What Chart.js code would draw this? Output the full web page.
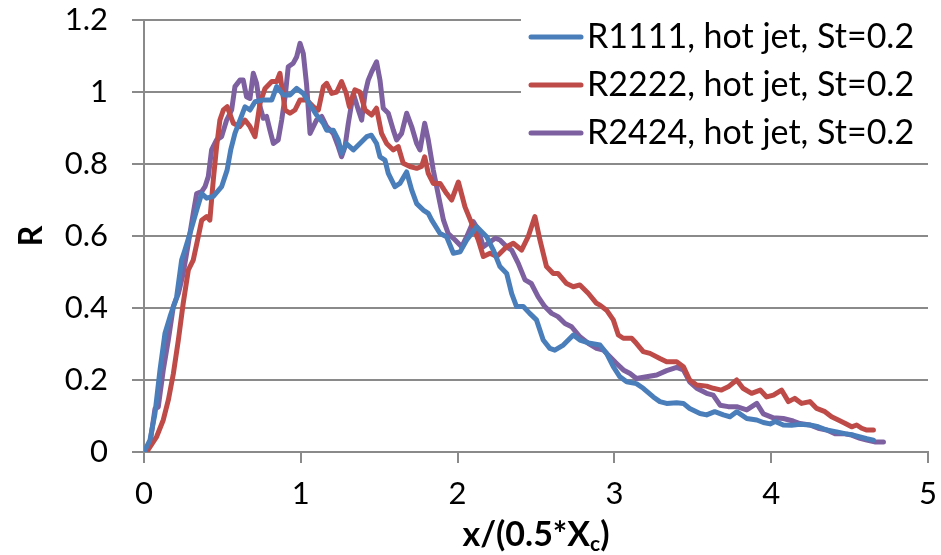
<!DOCTYPE html>
<html>
<head>
<meta charset="utf-8">
<script src="https://cdn.jsdelivr.net/npm/chart.js@4"></script>
<style>
  html, body { margin: 0; padding: 0; background: #fff; }
  #wrap { width: 941px; height: 555px; }
</style>
</head>
<body>
<div id="wrap"><canvas id="myChart" width="941" height="555"></canvas></div>
<script>
// R along the jet axis, hot jet, St = 0.2
const r1111X = [0, 0.038, 0.07, 0.102, 0.134, 0.166, 0.208, 0.24, 0.26, 0.293, 0.336, 0.368, 0.40, 0.442, 0.495, 0.53, 0.553, 0.58, 0.612, 0.644, 0.676, 0.708, 0.76, 0.815, 0.846, 0.889, 0.931, 0.974, 1.016, 1.06, 1.101, 1.144, 1.165, 1.207, 1.239, 1.26, 1.29, 1.335, 1.377, 1.42, 1.45, 1.483, 1.505, 1.537, 1.558, 1.6, 1.632, 1.675, 1.707, 1.739, 1.781, 1.813, 1.835, 1.888, 1.93, 1.973, 2.016, 2.058, 2.122, 2.185, 2.228, 2.27, 2.313, 2.345, 2.376, 2.419, 2.46, 2.503, 2.546, 2.588, 2.62, 2.674, 2.738, 2.78, 2.844, 2.908, 2.95, 2.993, 3.035, 3.078, 3.14, 3.184, 3.248, 3.29, 3.333, 3.397, 3.44, 3.48, 3.546, 3.588, 3.64, 3.695, 3.737, 3.78, 3.844, 3.908, 3.95, 3.993, 4.025, 4.077, 4.13, 4.183, 4.247, 4.3, 4.354, 4.418, 4.47, 4.524, 4.567, 4.61, 4.652];
const r1111Y = [0, 0.033, 0.107, 0.228, 0.33, 0.376, 0.43, 0.533, 0.56, 0.607, 0.672, 0.718, 0.705, 0.71, 0.737, 0.783, 0.839, 0.885, 0.922, 0.959, 0.95, 0.973, 0.978, 0.978, 1.015, 0.992, 0.992, 1.01, 0.996, 0.964, 0.936, 0.913, 0.894, 0.894, 0.867, 0.83, 0.857, 0.839, 0.857, 0.876, 0.88, 0.857, 0.82, 0.811, 0.774, 0.737, 0.746, 0.778, 0.728, 0.69, 0.672, 0.663, 0.644, 0.607, 0.598, 0.552, 0.556, 0.589, 0.626, 0.598, 0.561, 0.515, 0.496, 0.44, 0.404, 0.404, 0.385, 0.367, 0.311, 0.288, 0.283, 0.297, 0.325, 0.311, 0.302, 0.297, 0.274, 0.237, 0.209, 0.195, 0.19, 0.177, 0.153, 0.14, 0.135, 0.137, 0.135, 0.121, 0.107, 0.103, 0.112, 0.103, 0.098, 0.112, 0.093, 0.089, 0.082, 0.078, 0.085, 0.075, 0.074, 0.077, 0.075, 0.07, 0.061, 0.056, 0.051, 0.047, 0.042, 0.037, 0.033];

const r2222X = [0, 0.017, 0.081, 0.123, 0.155, 0.187, 0.219, 0.25, 0.283, 0.314, 0.346, 0.368, 0.40, 0.42, 0.442, 0.463, 0.484, 0.506, 0.531, 0.57, 0.61, 0.644, 0.676, 0.708, 0.74, 0.772, 0.815, 0.846, 0.867, 0.9, 0.931, 0.963, 0.995, 1.038, 1.08, 1.112, 1.144, 1.165, 1.197, 1.229, 1.26, 1.29, 1.31, 1.345, 1.377, 1.41, 1.452, 1.483, 1.515, 1.547, 1.59, 1.622, 1.653, 1.696, 1.739, 1.77, 1.79, 1.813, 1.845, 1.888, 1.93, 1.962, 2.005, 2.047, 2.09, 2.132, 2.164, 2.207, 2.25, 2.313, 2.355, 2.408, 2.45, 2.493, 2.525, 2.567, 2.61, 2.64, 2.695, 2.738, 2.78, 2.833, 2.886, 2.908, 2.95, 2.993, 3.025, 3.057, 3.11, 3.14, 3.184, 3.227, 3.29, 3.333, 3.397, 3.44, 3.48, 3.525, 3.588, 3.63, 3.683, 3.726, 3.78, 3.82, 3.875, 3.93, 3.971, 4.014, 4.066, 4.11, 4.15, 4.194, 4.247, 4.29, 4.343, 4.385, 4.428, 4.47, 4.513, 4.545, 4.577, 4.61, 4.652];
const r2222Y = [0, 0, 0.043, 0.089, 0.144, 0.217, 0.311, 0.413, 0.506, 0.533, 0.598, 0.644, 0.654, 0.644, 0.756, 0.848, 0.922, 0.95, 0.959, 0.913, 0.904, 0.922, 0.904, 0.876, 0.969, 1.01, 1.029, 1.029, 1.052, 0.95, 0.941, 0.95, 0.978, 0.978, 0.959, 0.95, 1.015, 1.024, 0.996, 1.0, 1.029, 0.996, 0.959, 1.006, 1.0, 0.95, 0.936, 0.955, 0.885, 0.857, 0.839, 0.848, 0.802, 0.793, 0.788, 0.793, 0.82, 0.774, 0.746, 0.746, 0.718, 0.7, 0.75, 0.681, 0.635, 0.589, 0.543, 0.552, 0.543, 0.57, 0.58, 0.561, 0.598, 0.654, 0.589, 0.515, 0.496, 0.496, 0.468, 0.459, 0.464, 0.441, 0.413, 0.408, 0.394, 0.367, 0.325, 0.316, 0.316, 0.302, 0.279, 0.274, 0.26, 0.251, 0.251, 0.237, 0.2, 0.186, 0.183, 0.177, 0.172, 0.181, 0.2, 0.177, 0.163, 0.172, 0.153, 0.158, 0.172, 0.14, 0.149, 0.135, 0.14, 0.121, 0.112, 0.098, 0.089, 0.08, 0.07, 0.075, 0.066, 0.061, 0.061];

const r2424X = [0, 0.038, 0.07, 0.091, 0.123, 0.155, 0.187, 0.219, 0.25, 0.283, 0.314, 0.336, 0.368, 0.389, 0.41, 0.431, 0.463, 0.495, 0.527, 0.559, 0.58, 0.612, 0.633, 0.654, 0.676, 0.697, 0.718, 0.74, 0.761, 0.782, 0.803, 0.825, 0.856, 0.878, 0.9, 0.92, 0.952, 0.974, 0.995, 1.016, 1.037, 1.059, 1.1, 1.133, 1.165, 1.207, 1.239, 1.26, 1.282, 1.303, 1.335, 1.367, 1.388, 1.41, 1.43, 1.452, 1.483, 1.505, 1.526, 1.558, 1.59, 1.611, 1.643, 1.675, 1.707, 1.739, 1.76, 1.79, 1.813, 1.845, 1.888, 1.91, 1.94, 1.984, 2.026, 2.058, 2.1, 2.132, 2.164, 2.195, 2.24, 2.27, 2.313, 2.345, 2.387, 2.43, 2.47, 2.514, 2.556, 2.6, 2.64, 2.685, 2.727, 2.78, 2.833, 2.886, 2.93, 2.97, 3.014, 3.057, 3.1, 3.14, 3.205, 3.27, 3.333, 3.397, 3.44, 3.48, 3.525, 3.588, 3.63, 3.674, 3.726, 3.78, 3.844, 3.908, 3.95, 4.014, 4.077, 4.14, 4.183, 4.247, 4.3, 4.354, 4.407, 4.46, 4.513, 4.567, 4.61, 4.66, 4.716];
const r2424Y = [0, 0.023, 0.12, 0.125, 0.228, 0.311, 0.404, 0.44, 0.496, 0.58, 0.663, 0.718, 0.723, 0.737, 0.765, 0.839, 0.867, 0.876, 0.922, 0.95, 1.015, 1.033, 1.033, 0.987, 0.982, 1.052, 1.024, 0.959, 0.927, 0.932, 0.894, 0.857, 0.867, 0.922, 0.987, 1.07, 1.08, 1.098, 1.135, 1.107, 1.02, 0.885, 0.922, 0.932, 0.904, 0.885, 0.848, 0.82, 0.848, 0.913, 0.996, 0.95, 0.922, 0.996, 1.033, 1.056, 1.084, 1.033, 0.955, 0.941, 0.894, 0.867, 0.885, 0.941, 0.904, 0.857, 0.839, 0.913, 0.867, 0.783, 0.69, 0.644, 0.607, 0.589, 0.57, 0.598, 0.64, 0.617, 0.57, 0.58, 0.594, 0.589, 0.57, 0.561, 0.524, 0.478, 0.468, 0.431, 0.404, 0.385, 0.376, 0.357, 0.348, 0.32, 0.302, 0.288, 0.283, 0.265, 0.246, 0.228, 0.218, 0.204, 0.209, 0.214, 0.226, 0.235, 0.228, 0.195, 0.177, 0.163, 0.158, 0.13, 0.126, 0.126, 0.117, 0.135, 0.106, 0.095, 0.093, 0.086, 0.079, 0.075, 0.066, 0.061, 0.051, 0.051, 0.047, 0.038, 0.033, 0.028, 0.028];

const seriesNames = ['R1111, hot jet, St=0.2', 'R2222, hot jet, St=0.2', 'R2424, hot jet, St=0.2'];
const seriesColors = ['#4a7ebb', '#be4b48', '#7d60a0'];
const xTicks = [0, 1, 2, 3, 4, 5];
const yTicks = [0, 0.2, 0.4, 0.6, 0.8, 1, 1.2];

const FONT = 'Lato, "Open Sans", sans-serif';
const GRID = '#8a8a8a';

function toPoints(xs, ys) {
  return xs.map((x, i) => ({ x: x, y: ys[i] }));
}

// axis titles and the legend box sit on top of the plot
const overlay = {
  id: 'overlay',
  afterDraw(chart) {
    const ctx = chart.ctx;
    const area = chart.chartArea;
    ctx.save();
    ctx.fillStyle = '#000';

    // y title
    ctx.font = 'bold 32px ' + FONT;
    ctx.textAlign = 'center';
    ctx.textBaseline = 'middle';
    ctx.translate(32, (area.top + area.bottom) / 2);
    ctx.rotate(-Math.PI / 2);
    ctx.fillText('R', 0, 0);
    ctx.setTransform(1, 0, 0, 1, 0, 0);

    // x title with subscript c
    const main = 'x/(0.5*X';
    const sub = 'c';
    const close = ')';
    ctx.font = 'bold 34px ' + FONT;
    const w1 = ctx.measureText(main).width;
    const w3 = ctx.measureText(close).width;
    ctx.font = 'bold 21px ' + FONT;
    const w2 = ctx.measureText(sub).width;
    let x = (area.left + area.right) / 2 - (w1 + w2 + w3) / 2;
    const base = 546;
    ctx.textAlign = 'left';
    ctx.textBaseline = 'alphabetic';
    ctx.font = 'bold 34px ' + FONT;
    ctx.fillText(main, x, base);
    x += w1;
    ctx.font = 'bold 21px ' + FONT;
    ctx.fillText(sub, x, base + 5);
    x += w2;
    ctx.font = 'bold 34px ' + FONT;
    ctx.fillText(close, x, base);

    // legend
    ctx.fillStyle = '#fff';
    ctx.fillRect(521, 12, 408, 146);
    ctx.font = '34px ' + FONT;
    ctx.textBaseline = 'middle';
    chart.data.datasets.forEach((ds, i) => {
      const y = 37 + i * 48;
      ctx.strokeStyle = ds.borderColor;
      ctx.lineWidth = 5;
      ctx.lineCap = 'round';
      ctx.beginPath();
      ctx.moveTo(531, y);
      ctx.lineTo(581, y);
      ctx.stroke();
      ctx.fillStyle = '#000';
      ctx.fillText(ds.label, 587, y);
    });
    ctx.restore();
  }
};

const ctx = document.getElementById('myChart').getContext('2d');
const chart = new Chart(ctx, {
  type: 'line',
  data: {
    datasets: [
      { label: seriesNames[0], data: toPoints(r1111X, r1111Y), borderColor: seriesColors[0] },
      { label: seriesNames[1], data: toPoints(r2222X, r2222Y), borderColor: seriesColors[1] },
      { label: seriesNames[2], data: toPoints(r2424X, r2424Y), borderColor: seriesColors[2] }
    ]
  },
  options: {
    responsive: false,
    animation: false,
    layout: { padding: { top: 20, right: 13, left: 0, bottom: 0 } },
    elements: {
      point: { radius: 0 },
      line: { borderWidth: 5, tension: 0, borderCapStyle: 'round', borderJoinStyle: 'round', fill: false }
    },
    plugins: {
      legend: { display: false },
      tooltip: { enabled: false }
    },
    scales: {
      x: {
        type: 'linear',
        min: 0,
        max: 5,
        afterBuildTicks: (scale) => { scale.ticks = xTicks.map(v => ({ value: v })); },
        afterFit: (scale) => {
          scale.height = 103;
          scale.paddingLeft = 0;
          scale.paddingRight = 0;
        },
        ticks: { color: '#000', font: { family: FONT, size: 31 }, padding: 12, maxRotation: 0 },
        grid: { drawOnChartArea: false, drawTicks: true, tickLength: 11, color: GRID, lineWidth: 2 },
        border: { color: GRID, width: 2 }
      },
      y: {
        min: 0,
        max: 1.2,
        afterBuildTicks: (scale) => { scale.ticks = yTicks.map(v => ({ value: v })); },
        afterFit: (scale) => {
          scale.width = 144;
          scale.paddingTop = 0;
          scale.paddingBottom = 0;
        },
        ticks: { color: '#000', font: { family: FONT, size: 31 }, padding: 24, callback: (v) => String(v) },
        grid: { color: GRID, lineWidth: 2, tickLength: 12 },
        border: { color: GRID, width: 2 }
      }
    }
  },
  plugins: [overlay]
});
</script>
</body>
</html>
